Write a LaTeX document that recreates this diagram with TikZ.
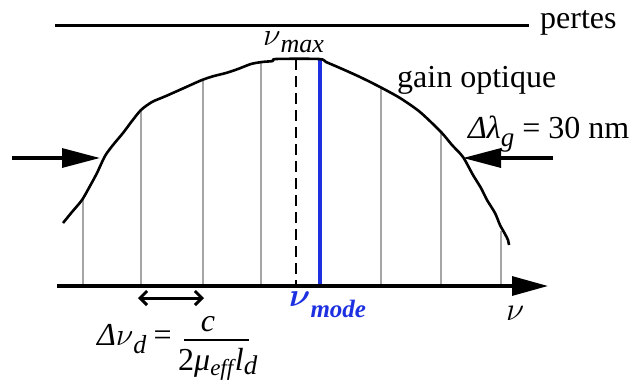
\RequirePackage{fix-cm}
\documentclass[tikz,border=0pt]{standalone}
\usepackage{amsmath}
\usepackage{fontspec}
\setmainfont{Liberation Serif}
\usetikzlibrary{arrows.meta}
\definecolor{gline}{RGB}{165,165,165}
\definecolor{modeblue}{RGB}{28,48,225}
\newcommand\fsz[1]{\fontsize{#1}{#1}\selectfont}
\newcommand\lowsub[3]{\raisebox{-#1}{\fsz{#2}#3}}
\newcommand\gnu{\ensuremath{\nu}}
\newcommand\bgnu{\ensuremath{\boldsymbol{\nu}}}
\begin{document}
\begin{tikzpicture}[x=1pt,y=-1pt,
  txt/.style={inner sep=0pt, anchor=base west, font=\fsz{32}},
  lossline/.style={line width=3pt},
  gaincurve/.style={line width=2.6pt, line join=round},
  modeline/.style={line width=2.4pt, gline},
  axisline/.style={line width=3.2pt, -{Triangle[length=36pt,width=19pt]}},
  bigarrow/.style={line width=3.2pt, -{Triangle[length=38pt,width=19pt]}},
  spacing/.style={line width=3pt, {Straight Barb[length=7pt,width=14pt]}-{Straight Barb[length=7pt,width=14pt]}},
  maxline/.style={line width=2.2pt, dash pattern=on 11pt off 6pt},
  selmode/.style={line width=4pt, modeblue}]
\useasboundingbox (0,0) rectangle (633,383);
% losses
\coordinate (pl) at (55,25);
\coordinate (pr) at (529,25);
\draw[lossline] (pl) -- (pr);
\node[txt] (pertes) at (540,28) {pertes};
% mode lines
\foreach \x/\t in {83/199,141/110,203/80,261/62,381/87,441/132,501/231}{
  \draw[modeline] (\x,\t) -- (\x,286);
}
\draw[maxline] (296,59) -- (296,286);
\draw[selmode] (320,59) -- (320,286);
% gain curve
\draw[gaincurve] plot[smooth, tension=0.45] coordinates {
 (63,223) (72,212) (82,200) (90,186) (97,173) (105,156) (113,145) (123,133)
 (132,121) (141,110) (152,102) (166,96) (184,88) (202,80) (214,76) (226,73)
 (238,69) (251,64) (262,62) (273,61) (276,59) (319,59) (326,62) (340,68)
 (360,77) (380,87) (400,98) (420,112) (441,132) (452,145) (463,157) (473,175)
 (481,188) (487,200) (495,213) (500,225) (505,234) (508,240) (509,245)};
% axis
\coordinate (ax0) at (57,286);
\coordinate (ax1) at (548,286);
\draw[axisline] (ax0) -- (ax1);
% width arrows
\coordinate (la0) at (12,158);
\coordinate (la1) at (100,158);
\coordinate (ra0) at (553,158);
\coordinate (ra1) at (463,158);
\draw[bigarrow] (la0) -- (la1);
\draw[bigarrow] (ra0) -- (ra1);
% spacing arrow
\coordinate (sa0) at (138,298);
\coordinate (sa1) at (204,298);
\draw[spacing] (sa0) -- (sa1);
% labels
\node[txt] (gain) at (397,87) {gain optique};
\node[txt] (dlg) at (468,138) {\textit{Δλ}\lowsub{8pt}{27}{\textit{g}} = 30 nm};
\node[txt, font=\fsz{32}] (numax) at (263,45) {\gnu\lowsub{7pt}{26}{\textit{max}}};
\node[txt, font=\fsz{33}\bfseries, text=modeblue] (numode) at (289,306) {\bgnu\lowsub{11pt}{25}{\textit{mode}}};
\node[txt, font=\fsz{33}] (nu) at (506,320) {\gnu};
\node[txt] (dnu) at (97,345) {\textit{Δ}{\fsz{32}\gnu}\lowsub{8pt}{26}{\textit{d}}\kern7pt=};
\node[txt, anchor=base] (num) at (208,331) {\textit{c}};
\coordinate (fb0) at (184,340);
\coordinate (fb1) at (249,340);
\draw[line width=2.4pt] (fb0) -- (fb1);
\node[txt] (den) at (178,370) {2\textit{μ}\lowsub{5pt}{23}{\textit{eff}}\kern-1pt\textit{l}\lowsub{4pt}{27}{\textit{d}}};
\end{tikzpicture}
\end{document}
